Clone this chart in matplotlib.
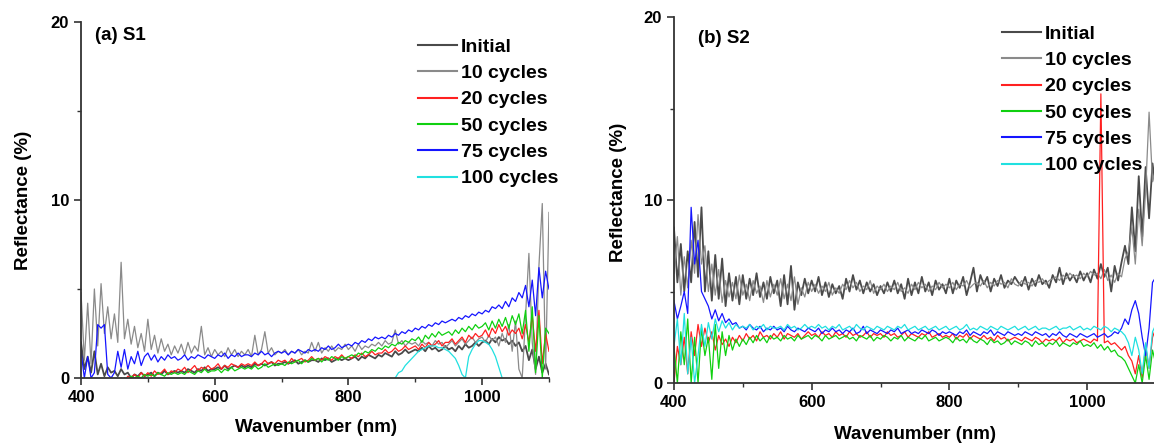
import numpy as np
import matplotlib
matplotlib.use("Agg")
import matplotlib.pyplot as plt
from matplotlib.ticker import MultipleLocator

plt.rcParams['font.family'] = ['Liberation Sans', 'DejaVu Sans']
plt.rcParams['font.weight'] = 'bold'

# wavelength grid (nm), 5 nm sampling
wl = np.arange(400, 1101, 5)

labels = ["Initial", "10 cycles", "20 cycles", "50 cycles", "75 cycles", "100 cycles"]
colors = ["#4a4a4a", "#8a8a8a", "#ff2020", "#10d010", "#1515ff", "#20e0e0"]

# ---- panel (a) S1 ----
s1_initial = [
    2.0, 0.5, 1.2, 0.3, 1.5, 0.2, 0.8, 0.1, 0.6, 0.3,
    0.4, 0.1, 0.5, 0.2, 0.3, 0.0, 0.2, 0.1, 0.3, 0.1,
    0.2, 0.3, 0.1, 0.3, 0.2, 0.4, 0.2, 0.3, 0.4, 0.3,
    0.4, 0.3, 0.5, 0.4, 0.3, 0.5, 0.4, 0.6, 0.4, 0.5,
    0.5, 0.6, 0.5, 0.7, 0.5, 0.6, 0.7, 0.6, 0.7, 0.6,
    0.7, 0.6, 0.8, 0.7, 0.8, 0.7, 0.8, 0.9, 0.7, 0.8,
    0.8, 0.9, 0.8, 0.9, 1.0, 0.8, 0.9, 1.0, 0.9, 1.0,
    1.0, 0.9, 1.1, 1.0, 1.1, 0.9, 1.0, 1.1, 1.0, 1.1,
    1.0, 1.1, 1.2, 1.0, 1.2, 1.1, 1.3, 1.2, 1.1, 1.3,
    1.2, 1.4, 1.3, 1.2, 1.5, 1.3, 1.4, 1.6, 1.4, 1.5,
    1.6, 1.5, 1.7, 1.5, 1.8, 1.6, 1.7, 1.5, 1.6, 1.8,
    1.6, 1.7, 1.5, 1.8, 1.6, 1.9, 1.7, 1.8, 2.0, 1.8,
    2.0, 2.1, 1.9, 2.2, 2.0, 2.3, 2.1, 2.2, 1.9, 2.1,
    1.8, 2.0, 1.5, 1.8, 1.0, 1.6, 0.5, 1.2, 0.3, 0.8,
    0.2]
s1_c10 = [
    4.8, 1.0, 4.2, 0.8, 5.0, 1.8, 5.3, 2.5, 4.0, 2.2,
    3.6, 2.0, 6.5, 2.2, 3.3, 1.9, 2.9, 1.7, 2.5, 1.5,
    3.3, 1.6, 2.4, 1.4, 2.2, 1.5, 1.9, 1.3, 1.8, 1.4,
    1.9, 1.3, 2.0, 1.4, 1.8, 1.5, 2.9, 1.3, 1.7, 1.2,
    1.6, 1.3, 1.5, 1.2, 1.7, 1.3, 1.6, 1.2, 1.5, 1.3,
    1.6, 1.2, 2.4, 1.3, 1.6, 2.6, 1.4, 1.7, 1.3, 1.5,
    1.4, 1.6, 1.3, 1.5, 1.4, 1.6, 1.3, 1.5, 1.4, 2.0,
    1.5, 2.0, 1.4, 1.7, 1.5, 1.8, 1.5, 1.7, 1.6, 1.9,
    1.6, 1.8, 1.5, 1.9, 1.6, 1.8, 1.7, 1.9, 1.8, 2.0,
    1.8, 2.1, 1.9, 2.0, 2.7, 1.9, 2.1, 1.8, 2.0, 1.9,
    2.0, 1.8, 2.1, 1.9, 2.0, 1.8, 2.1, 1.9, 2.0, 1.7,
    1.9, 2.1, 1.8, 2.0, 2.2, 1.9, 2.1, 2.3, 2.0, 2.2,
    2.3, 2.0, 2.4, 2.1, 2.3, 1.8, 2.5, 2.0, 3.0, 1.5,
    3.2, 0.5, 0.0, 3.5, 7.0, 2.0, 0.2, 6.3, 9.8, 0.5,
    9.3]
s1_c20 = [
    -0.5, -0.5, -0.5, -0.5, -0.5, -0.5, -0.5, -0.5, -0.5, -0.5,
    -0.5, -0.3, 0.0, -0.2, 0.1, 0.0, 0.2, 0.0, 0.3, 0.1,
    0.3, 0.1, 0.4, 0.2, 0.3, 0.5, 0.2, 0.4, 0.3, 0.5,
    0.4, 0.6, 0.3, 0.5, 0.7, 0.4, 0.6, 0.5, 0.7, 0.5,
    0.6, 0.8, 0.5, 0.7, 0.6, 0.8, 0.7, 0.6, 0.8, 0.7,
    0.8, 0.7, 0.9, 0.7, 0.8, 1.0, 0.8, 0.9, 0.8, 1.0,
    0.9, 1.0, 0.8, 1.1, 0.9, 1.0, 1.1, 0.9, 1.0, 1.2,
    1.0, 1.1, 1.0, 1.2, 1.1, 1.0, 1.2, 1.1, 1.3, 1.1,
    1.2, 1.1, 1.3, 1.2, 1.4, 1.2, 1.3, 1.5, 1.3, 1.4,
    1.4, 1.6, 1.4, 1.5, 1.7, 1.5, 1.6, 1.8, 1.6, 1.7,
    1.8, 1.6, 1.9, 1.7, 2.0, 1.8, 1.9, 2.1, 1.8, 2.0,
    2.0, 2.2, 1.9, 2.1, 2.3, 2.0, 2.4, 2.2, 2.5, 2.3,
    2.4, 2.7, 2.3, 2.8, 2.5, 3.0, 2.6, 2.9, 2.4, 2.7,
    2.5, 2.8, 2.2, 3.0, 2.0, 3.5, 1.5, 3.8, 0.8, 2.5,
    1.5]
s1_c50 = [
    -0.5, -0.5, -0.5, -0.5, -0.5, -0.5, -0.5, -0.5, -0.5, -0.5,
    -0.5, -0.3, -0.2, 0.0, -0.1, 0.1, 0.0, 0.1, 0.0, 0.2,
    0.1, 0.2, 0.1, 0.3, 0.2, 0.1, 0.3, 0.2, 0.3, 0.2,
    0.3, 0.2, 0.4, 0.3, 0.2, 0.4, 0.3, 0.5, 0.3, 0.4,
    0.4, 0.5, 0.3, 0.5, 0.4, 0.6, 0.4, 0.5, 0.6, 0.5,
    0.6, 0.5, 0.7, 0.5, 0.6, 0.8, 0.6, 0.7, 0.8, 0.7,
    0.8, 0.7, 0.9, 0.8, 0.9, 1.0, 0.8, 1.0, 0.9, 1.1,
    1.0, 1.1, 0.9, 1.1, 1.0, 1.2, 1.1, 1.0, 1.2, 1.1,
    1.2, 1.3, 1.2, 1.4, 1.3, 1.5, 1.4, 1.6, 1.5, 1.7,
    1.6, 1.8, 1.7, 1.9, 1.8, 2.0, 1.9, 2.1, 2.0, 2.2,
    2.1, 2.3, 2.0, 2.4, 2.2, 2.5, 2.3, 2.6, 2.4, 2.5,
    2.6, 2.4, 2.7, 2.5, 2.8, 2.6, 2.9, 2.7, 3.0, 2.8,
    2.9, 3.1, 2.7, 3.2, 2.8, 3.3, 2.9, 3.4, 2.8, 3.5,
    3.0, 3.6, 2.5, 3.8, 1.5, 4.0, 0.3, 3.5, 0.0, 2.8,
    2.5]
s1_c75 = [
    1.5, 0.0, 1.2, 0.0, 0.3, 3.0, 2.8, 3.0, 0.2, 0.0,
    0.3, 1.5, 0.6, 1.6, 0.5, 1.2, 0.8, 1.5, 0.7, 1.2,
    1.4, 1.0, 1.3, 0.9, 1.2, 1.0, 1.3, 1.1, 1.2, 1.0,
    1.1, 1.3, 1.0, 1.2, 1.1, 1.3, 1.2, 1.1, 1.3, 1.2,
    1.1, 1.3, 1.2, 1.4, 1.1, 1.3, 1.2, 1.4, 1.2, 1.3,
    1.3, 1.2, 1.4, 1.3, 1.5, 1.3, 1.4, 1.2, 1.4, 1.5,
    1.4, 1.5, 1.3, 1.5, 1.4, 1.6, 1.5, 1.4, 1.6, 1.5,
    1.6, 1.5, 1.7, 1.6, 1.8, 1.6, 1.7, 1.9, 1.7, 1.8,
    1.9, 1.8, 2.0, 1.9, 2.1, 2.0, 2.2, 2.1, 2.3, 2.2,
    2.3, 2.2, 2.4, 2.3, 2.5, 2.4, 2.6, 2.5, 2.7, 2.6,
    2.8, 2.7, 2.9, 2.8, 3.0, 2.9, 3.1, 3.0, 3.2, 3.1,
    3.2, 3.3, 3.2, 3.4, 3.3, 3.5, 3.4, 3.6, 3.5, 3.7,
    3.6, 3.8, 3.7, 4.0, 3.9, 4.1, 3.9, 4.3, 4.0, 4.5,
    4.3, 4.8, 4.5, 5.2, 4.0, 5.5, 3.5, 6.2, 4.5, 6.0,
    5.0]
s1_c100 = [
    -1, -1, -1, -1, -1, -1, -1, -1, -1, -1,
    -1, -1, -1, -1, -1, -1, -1, -1, -1, -1,
    -1, -1, -1, -1, -1, -1, -1, -1, -1, -1,
    -1, -1, -1, -1, -1, -1, -1, -1, -1, -1,
    -1, -1, -1, -1, -1, -1, -1, -1, -1, -1,
    -1, -1, -1, -1, -1, -1, -1, -1, -1, -1,
    -1, -1, -1, -1, -1, -1, -1, -1, -1, -1,
    -1, -1, -1, -1, -1, -1, -1, -1, -1, -1,
    -1, -1, -1, -1, -1, -1, -1, -1, -1, -1,
    -1, -1, -1, -0.5, 0.0, 0.3, 0.4, 0.7, 0.9, 1.1,
    1.3, 1.5, 1.6, 1.7, 1.8, 1.8, 1.8, 1.7, 1.7, 1.6,
    1.5, 1.3, 1.1, 0.7, 0.2, 0.0, 1.2, 1.6, 1.9, 2.1,
    2.1, 2.0, 1.9, 1.6, 1.2, 0.6, 0.0, -0.5, -1, -1,
    -1, -1, -1, -1, -1, -1, -1, -1, -1, -1,
    -1]

# ---- panel (b) S2 ----
s2_initial = [
    8.5, 5.5, 7.6, 5.0, 7.2, 5.5, 8.8, 5.8, 9.6, 5.0,
    7.2, 4.5, 7.0, 4.6, 6.8, 4.2, 6.0, 4.5, 5.8, 4.3,
    5.9, 4.6, 5.7, 4.8, 6.0, 4.7, 5.5, 4.6, 5.8, 4.9,
    5.6, 4.2, 5.9, 4.3, 6.4, 4.0, 5.5, 4.8, 5.7, 4.9,
    5.6, 5.0, 5.8, 4.8, 5.5, 4.7, 5.4, 4.9, 5.3, 4.6,
    5.7, 5.0, 5.9, 5.1, 5.6, 4.9, 5.5, 5.0, 5.4, 4.8,
    5.3, 4.9, 5.5, 5.0, 5.6, 4.9, 5.4, 4.6, 5.7, 4.8,
    5.5, 4.9, 5.8, 5.0, 5.5, 4.8, 5.6, 5.1, 5.4, 4.9,
    5.7, 4.9, 5.6, 5.2, 5.8, 4.8, 5.5, 6.3, 5.0, 5.9,
    5.4, 5.8, 5.0, 5.7, 5.3, 5.9, 5.2, 5.6, 5.4, 5.8,
    5.5, 5.3, 5.8, 5.1, 5.7, 5.3, 5.9, 5.4, 5.6, 5.2,
    5.9, 5.5, 6.3, 5.4, 6.0, 5.6, 5.9, 5.5, 6.1, 5.6,
    6.0, 5.5, 6.2, 5.7, 6.5, 5.8, 6.3, 5.0, 6.4, 5.6,
    6.6, 7.5, 6.5, 9.6, 7.2, 11.3, 8.0, 11.8, 9.0, 12.0,
    10.5]
s2_c10 = [
    6.0, 8.0, 4.8, 6.9, 5.2, 7.8, 6.0, 9.2, 6.5, 7.5,
    5.0, 6.5, 4.8, 6.2, 4.4, 5.6, 4.7, 5.5, 4.6, 5.9,
    4.8, 5.4, 4.5, 5.6, 4.9, 5.3, 4.4, 5.6, 4.7, 5.4,
    4.8, 5.7, 4.6, 5.4, 4.5, 5.8, 4.3, 5.2, 4.7, 5.5,
    5.0, 5.4, 4.9, 5.3, 5.0, 5.5, 4.8, 5.2, 4.9, 5.4,
    5.1, 5.6, 5.2, 5.5, 5.0, 5.3, 5.1, 5.6, 4.9, 5.3,
    5.1, 5.4, 5.0, 5.3, 5.1, 5.5, 5.0, 5.2, 4.9, 5.4,
    5.1, 5.5, 5.2, 5.4, 5.0, 5.3, 5.1, 5.5, 5.2, 5.4,
    5.2, 5.5, 5.1, 5.4, 5.3, 5.6, 5.2, 5.4, 5.5, 5.3,
    5.6, 5.2, 5.5, 5.3, 5.6, 5.4, 5.5, 5.2, 5.7, 5.4,
    5.3, 5.6, 5.4, 5.5, 5.3, 5.6, 5.5, 5.7, 5.4, 5.6,
    5.7, 5.8, 5.6, 5.9, 5.7, 6.0, 5.8, 5.9, 5.7, 6.0,
    5.8, 6.1, 5.9, 6.0, 5.7, 6.2, 5.6, 5.9, 5.5, 6.0,
    5.8, 6.8, 7.2, 8.5, 6.5, 9.5, 7.5, 10.5, 14.8, 11.0,
    11.8]
s2_c20 = [
    0.0, 2.0, 1.0, 2.5, 0.5, 2.8, 1.5, 3.2, 2.0, 3.0,
    2.2, 2.8, 1.8, 2.6, 2.1, 2.4, 2.0, 2.5, 2.2, 2.6,
    2.3, 2.7, 2.4, 2.6, 2.3, 2.8, 2.5, 2.6, 2.4, 2.7,
    2.5, 2.8, 2.4, 2.7, 2.6, 2.5, 2.7, 2.4, 2.6, 2.8,
    2.6, 2.7, 2.5, 2.8, 2.6, 2.7, 2.5, 2.8, 2.6, 2.7,
    2.5, 2.8, 2.6, 2.7, 2.5, 2.6, 2.8, 2.5, 2.7, 2.6,
    2.7, 2.5, 2.8, 2.6, 2.7, 2.5, 2.6, 2.8, 2.5, 2.7,
    2.6, 2.5, 2.7, 2.6, 2.8, 2.5, 2.6, 2.7, 2.5, 2.6,
    2.5, 2.7, 2.4, 2.6, 2.5, 2.7, 2.4, 2.6, 2.5, 2.4,
    2.6, 2.4, 2.5, 2.3, 2.6, 2.4, 2.5, 2.3, 2.4, 2.5,
    2.4, 2.3, 2.5, 2.4, 2.3, 2.5, 2.4, 2.2, 2.4, 2.3,
    2.4, 2.3, 2.5, 2.2, 2.4, 2.3, 2.4, 2.2, 2.3, 2.4,
    2.3, 2.2, 2.4, 2.3, 15.8, 2.2, 2.3, 2.1, 2.2, 2.0,
    1.8, 2.0, 1.5, 1.2, 0.5, 1.5, 0.3, 2.0, 0.8, 2.5,
    3.0]
s2_c50 = [
    2.0, 0.0, 2.8, 1.0, 3.5, 0.0, 2.5, 0.0, 3.0, 1.5,
    2.5, 0.2, 3.2, 0.8, 2.8, 1.5, 2.6, 1.8, 2.4, 2.0,
    2.4, 2.1, 2.5, 2.2, 2.6, 2.3, 2.5, 2.2, 2.6, 2.4,
    2.5, 2.3, 2.6, 2.4, 2.5, 2.3, 2.6, 2.4, 2.5, 2.6,
    2.4, 2.6, 2.5, 2.3, 2.6, 2.4, 2.5, 2.6, 2.4, 2.5,
    2.6, 2.4, 2.5, 2.3, 2.6, 2.5, 2.4, 2.6, 2.3, 2.5,
    2.4, 2.6, 2.5, 2.3, 2.5, 2.4, 2.6, 2.3, 2.5, 2.4,
    2.3, 2.5, 2.4, 2.6, 2.3, 2.4, 2.5, 2.3, 2.4, 2.5,
    2.4, 2.2, 2.5, 2.3, 2.4, 2.2, 2.5, 2.3, 2.2, 2.4,
    2.3, 2.1, 2.4, 2.2, 2.3, 2.1, 2.2, 2.4, 2.1, 2.3,
    2.2, 2.1, 2.3, 2.2, 2.0, 2.3, 2.1, 2.2, 2.0, 2.2,
    2.1, 2.3, 2.0, 2.2, 2.1, 2.0, 2.2, 2.1, 2.3, 2.0,
    2.1, 2.0, 2.2, 1.9, 2.1, 1.8, 2.0, 1.7, 1.8, 1.5,
    1.4, 1.2, 0.8, 0.4, 0.0, 1.0, 0.0, 1.5, 0.2, 1.8,
    1.0]
s2_c75 = [
    4.5, 3.5, 4.2, 5.0, 3.8, 9.6, 6.5, 7.8, 5.0, 4.6,
    4.2, 3.5, 4.0, 3.4, 3.8, 3.3, 3.5, 3.2, 3.3, 3.0,
    3.1, 2.9, 3.2, 3.0, 2.9, 3.1, 2.8, 3.0, 2.9, 3.1,
    2.9, 3.0, 2.8, 3.1, 2.9, 2.8, 3.0, 2.9, 2.8, 3.0,
    2.9, 2.8, 3.0, 2.7, 2.9, 2.8, 3.0, 2.8, 2.9, 2.7,
    2.9, 2.8, 3.0, 2.7, 2.8, 3.1, 2.7, 2.9, 2.8, 2.7,
    2.9, 2.8, 2.7, 2.9, 2.8, 3.0, 2.7, 2.8, 2.9, 2.7,
    2.8, 2.7, 2.9, 2.8, 2.7, 2.9, 2.8, 2.6, 2.8, 2.7,
    2.8, 2.7, 2.6, 2.8, 2.7, 2.9, 2.6, 2.8, 2.7, 2.6,
    2.8, 2.7, 2.9, 2.6, 2.8, 2.7, 2.6, 2.8, 2.7, 2.6,
    2.7, 2.6, 2.8, 2.7, 2.6, 2.8, 2.7, 2.6, 2.7, 2.5,
    2.7, 2.6, 2.8, 2.6, 2.5, 2.7, 2.6, 2.5, 2.7, 2.6,
    2.5, 2.6, 2.7, 2.5, 2.6, 2.7, 2.5, 2.6, 2.8, 2.7,
    3.0, 3.5, 3.2, 4.0, 4.5, 3.8, 2.5, 1.5, 3.0, 5.5,
    5.8]
s2_c100 = [
    2.0, 3.5, 1.0, 3.8, 0.5, 2.5, 0.0, 1.5, 3.2, 2.0,
    3.3, 2.4, 3.5, 2.8, 3.4, 3.0, 3.3, 2.9, 3.2, 3.0,
    3.1, 3.0, 3.2, 2.9, 3.1, 3.0, 3.2, 2.9, 3.1, 3.0,
    3.0, 3.1, 2.9, 3.2, 3.0, 3.1, 2.9, 3.0, 3.2, 3.0,
    3.1, 3.0, 3.2, 3.0, 3.1, 2.9, 3.1, 3.0, 3.2, 2.9,
    3.0, 3.1, 2.9, 3.2, 3.0, 2.9, 3.1, 3.0, 2.9, 3.1,
    3.0, 2.9, 3.1, 3.0, 2.9, 3.1, 3.0, 3.2, 2.9, 3.0,
    3.1, 2.9, 3.0, 3.1, 2.9, 3.0, 3.1, 2.9, 3.0, 3.1,
    2.9, 3.0, 3.1, 2.9, 3.0, 3.2, 2.9, 3.0, 2.9, 3.1,
    3.0, 2.9, 3.1, 3.0, 2.9, 3.1, 3.0, 2.9, 3.0, 3.1,
    2.9, 3.0, 3.1, 2.9, 3.0, 3.1, 2.9, 3.0, 3.0, 2.9,
    3.0, 3.1, 2.9, 3.0, 3.0, 3.1, 2.9, 3.0, 3.1, 2.9,
    3.0, 2.9, 3.1, 3.0, 2.9, 3.1, 3.0, 2.8, 3.0, 2.9,
    2.8, 2.6, 2.2, 1.5, 2.5, 1.8, 0.5, 2.2, 0.8, 2.8,
    3.2]

s1 = [s1_initial, s1_c10, s1_c20, s1_c50, s1_c75, s1_c100]
s2 = [s2_initial, s2_c10, s2_c20, s2_c50, s2_c75, s2_c100]

fig = plt.figure(figsize=(11.54, 4.45), dpi=100)
ax1 = fig.add_axes([0.0702, 0.1506, 0.4055, 0.80])
ax2 = fig.add_axes([0.584, 0.1393, 0.4177, 0.8225])


def style(ax):
    ax.set_xlim(400, 1100)
    ax.set_ylim(0, 20)
    ax.xaxis.set_major_locator(MultipleLocator(200))
    ax.xaxis.set_minor_locator(MultipleLocator(100))
    ax.yaxis.set_major_locator(MultipleLocator(10))
    ax.yaxis.set_minor_locator(MultipleLocator(5))
    for side in ["top", "right"]:
        ax.spines[side].set_visible(False)
    for side in ["left", "bottom"]:
        ax.spines[side].set_color("#333333")
        ax.spines[side].set_linewidth(1.3)
    ax.tick_params(which="major", direction="out", length=5, width=1.2,
                   color="#333333", labelsize=12)
    ax.tick_params(which="minor", direction="out", length=3, width=1.0,
                   color="#333333")
    for lab in ax.get_xticklabels() + ax.get_yticklabels():
        lab.set_fontweight("bold")
    ax.set_xlabel("Wavenumber (nm)", fontsize=13.5, fontweight="bold")
    ax.set_ylabel("Reflectance (%)", fontsize=13.5, fontweight="bold")


for ax, series in [(ax1, s1), (ax2, s2)]:
    for vals, lab, c in zip(series, labels, colors):
        lw = 1.3 if lab == "Initial" else 0.9
        ax.plot(wl, vals, color=c, lw=lw, label=lab)
    style(ax)

ax1.xaxis.set_label_coords(0.502, -0.115)
ax1.yaxis.set_label_coords(-0.105, 0.50)
ax2.xaxis.set_label_coords(0.50, -0.117)
ax2.yaxis.set_label_coords(-0.097, 0.52)

ax1.text(0.03, 0.963, "(a) S1", transform=ax1.transAxes, fontsize=13.5,
         fontweight="bold", va="center", ha="left")
ax2.text(0.05, 0.94, "(b) S2", transform=ax2.transAxes, fontsize=13.5,
         fontweight="bold", va="center", ha="left")

leg_kw = dict(frameon=False, loc="upper left", borderaxespad=0, borderpad=0,
              handlelength=2.0, handletextpad=0.2, labelspacing=0.45,
              prop={"size": 14, "weight": "bold"})
leg1 = ax1.legend(bbox_to_anchor=(418 / 1154, 1 - 38 / 445),
                  bbox_transform=fig.transFigure, **leg_kw)
leg2 = ax2.legend(bbox_to_anchor=(1002 / 1154, 1 - 25 / 445),
                  bbox_transform=fig.transFigure, **leg_kw)
for leg in (leg1, leg2):
    for h in leg.get_lines():
        h.set_linewidth(1.5)

fig.savefig("out.png", dpi=100)
